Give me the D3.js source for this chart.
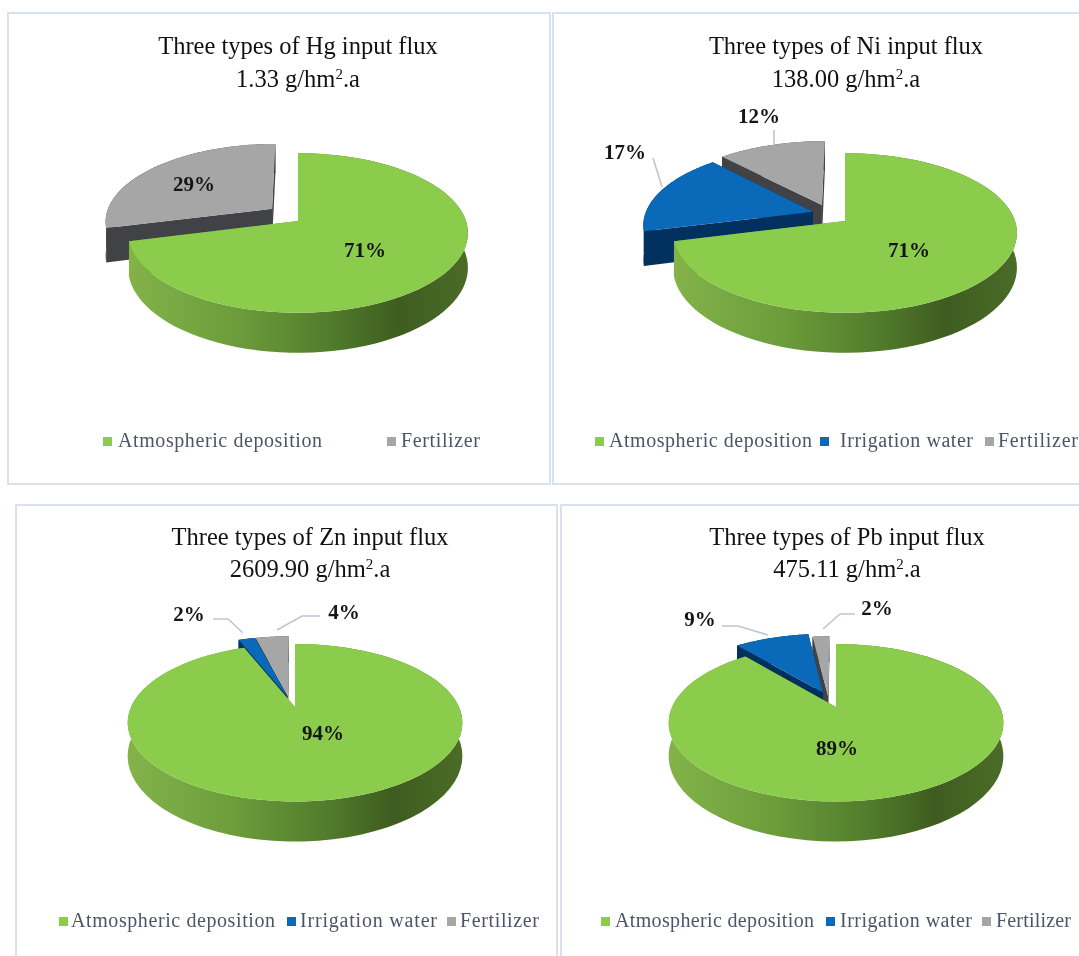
<!DOCTYPE html>
<html>
<head>
<meta charset="utf-8">
<script src="https://d3js.org/d3.v7.min.js"></script>
<style>
html,body{margin:0;padding:0;background:#fff;overflow:hidden}
svg{display:block;filter:blur(0.45px)}
text{font-family:"Liberation Serif","Times New Roman",serif}
</style>
</head>
<body>
<script>
// ---- data ----
const categories = ["Atmospheric deposition", "Irrigation water", "Fertilizer"];
const elements = ["Hg", "Ni", "Zn", "Pb"];
const totals = ["1.33", "138.00", "2609.90", "475.11"];
const hgValues = [71, 0, 29];
const niValues = [71, 17, 12];
const znValues = [94, 2, 4];
const pbValues = [89, 9, 2];
const allValues = [hgValues, niValues, znValues, pbValues];

// ---- styling ----
const topColors = ["#8ccc4c", "#0a69b8", "#a6a6a6"];
const wallColors = [null, "#02315f", "#404246"];
const W = 1079, H = 956;

// ---- layout of each panel (pie-plane projection and annotation placement) ----
const layouts = [
  { box:[8,13,542,471], titleX:298, titleY:[54,87], ax:298, ay:221, R:168, Rk:78, p:0.15, h:34,
    shift:[[0,0],[0,0],[-0.158,0.16]],
    labels:[[365,250],null,[194,184]], leaders:[null,null,null],
    legendY:441, legend:[[103,118,204],null,[387,401,79]] },
  { box:[553,13,600,471], titleX:846, titleY:[54,87], ax:845, ay:221, R:170, Rk:78, p:0.15, h:34,
    shift:[[0,0],[-0.192,0.12],[-0.14,0.21]],
    labels:[[909,250],[625,152],[759,116]],
    leaders:[null,[[653,158],[662,187]],[[774,130],[774,145]]],
    legendY:441, legend:[[595,609,203],[820,840,133],[985,998,80]] },
  { box:[16,505,541,500], titleX:310, titleY:[545,577], ax:295, ay:707, R:164, Rk:75.6, p:0.2, h:32,
    shift:[[0,0],[-0.05,0.15],[-0.045,0.15]],
    labels:[[323,733],[189,614],[344,612]],
    leaders:[null,[[213,619],[228,619],[243,633]],[[320,616],[302,616],[277,630]]],
    legendY:921, legend:[[59,71,204],[287,300,137],[447,460,79]] },
  { box:[561,505,600,500], titleX:847, titleY:[545,577], ax:836, ay:707, R:164, Rk:75.6, p:0.2, h:32,
    shift:[[0,0],[-0.083,0.2],[-0.05,0.15]],
    labels:[[837,748],[700,619],[877,608]],
    leaders:[null,[[722,626],[738,626],[768,635]],[[855,614],[840,614],[823,629]]],
    legendY:921, legend:[[601,615,199],[826,840,132],[982,996,75]] }
];

const svg = d3.select("body").append("svg").attr("width", W).attr("height", H)
  .attr("viewBox", `0 0 ${W} ${H}`);
const defs = svg.append("defs");
const pie = d3.pie().sort(null).value(d => d);
const line = d3.line();

allValues.forEach((values, i) => {
  const L = layouts[i];
  const g = svg.append("g");

  g.append("rect").attr("x", L.box[0]).attr("y", L.box[1])
    .attr("width", L.box[2]).attr("height", L.box[3])
    .attr("fill", "#fff").attr("stroke", "#d8e1ec").attr("stroke-width", 2);

  // title
  g.append("text").attr("x", L.titleX).attr("y", L.titleY[0])
    .attr("text-anchor", "middle").attr("font-size", 24.5).attr("fill", "#111")
    .text(`Three types of ${elements[i]} input flux`);
  const t2 = g.append("text").attr("x", L.titleX).attr("y", L.titleY[1])
    .attr("text-anchor", "middle").attr("font-size", 24.5).attr("fill", "#111");
  t2.append("tspan").text(`${totals[i]} g/hm`);
  t2.append("tspan").attr("dy", -8).attr("font-size", 15).text("2");
  t2.append("tspan").attr("dy", 8).text(".a");

  // projective map of the pie plane to the picture
  const proj = (u, v, down) => {
    const d = 1 + L.p * v;
    return [L.ax + L.R * u / d, L.ay - L.Rk * v / d + (down ? L.h / d : 0)];
  };

  const gradId = "wall" + i;
  const grad = defs.append("linearGradient").attr("id", gradId)
    .attr("gradientUnits", "userSpaceOnUse")
    .attr("x1", L.ax - L.R).attr("x2", L.ax + L.R).attr("y1", 0).attr("y2", 0);
  [[0,"#82b248"],[0.3,"#6e9e3c"],[0.6,"#517c2c"],[0.8,"#3e5c20"],[1,"#4a6c27"]].forEach(s =>
    grad.append("stop").attr("offset", s[0]).attr("stop-color", s[1]));

  const slices = pie(values).map((s, k) => ({ s, k, shift: L.shift[k] }))
    .filter(d => d.s.value > 0)
    .map(d => {
      const mid = (d.s.startAngle + d.s.endAngle) / 2;
      return { ...d, depth: Math.cos(mid) + d.shift[1] };
    })
    .sort((a, b) => b.depth - a.depth);

  slices.forEach(({ s, k, shift }) => {
    const [du, dv] = shift;
    const a0 = s.startAngle, a1 = s.endAngle;
    const angles = d3.range(0, 81).map(n => a0 + (a1 - a0) * n / 80);
    const rim = angles.map(a => [Math.sin(a) + du, Math.cos(a) + dv]);
    const apex = [du, dv];
    const wallFill = k === 0 ? `url(#${gradId})` : wallColors[k];
    const quad = (e) => [proj(apex[0], apex[1], false), proj(e[0], e[1], false),
                         proj(e[0], e[1], true), proj(apex[0], apex[1], true)];
    // radial walls
    [rim[0], rim[rim.length - 1]].forEach(e =>
      g.append("path").attr("d", line(quad(e)) + "Z")
        .attr("fill", wallColors[k] || "#5c8733"));
    // outer wall
    const wall = rim.map(e => proj(e[0], e[1], false))
      .concat(rim.slice().reverse().map(e => proj(e[0], e[1], true)));
    g.append("path").attr("d", line(wall) + "Z").attr("fill", wallFill);
    // top face
    const face = [proj(apex[0], apex[1], false)].concat(rim.map(e => proj(e[0], e[1], false)));
    g.append("path").attr("d", line(face) + "Z").attr("fill", topColors[k]);
  });

  // leaders
  L.leaders.forEach(pts => {
    if (pts) g.append("path").attr("d", line(pts)).attr("fill", "none")
      .attr("stroke", "#bcc6d4").attr("stroke-width", 1.6);
  });

  // data labels
  values.forEach((v, k) => {
    if (!v) return;
    g.append("text").attr("x", L.labels[k][0]).attr("y", L.labels[k][1])
      .attr("text-anchor", "middle").attr("dominant-baseline", "central")
      .attr("font-size", 21).attr("font-weight", "bold").attr("fill", "#151515")
      .text(v + "%");
  });

  // legend
  categories.forEach((c, k) => {
    const pos = L.legend[k];
    if (!pos) return;
    g.append("rect").attr("x", pos[0]).attr("y", L.legendY - 4)
      .attr("width", 9).attr("height", 9).attr("fill", topColors[k]);
    g.append("text").attr("x", pos[1]).attr("y", L.legendY + 6)
      .attr("font-size", 20).attr("fill", "#4c5568")
      .attr("textLength", pos[2]).attr("lengthAdjust", "spacing")
      .text(c);
  });
});
</script>
</body>
</html>
